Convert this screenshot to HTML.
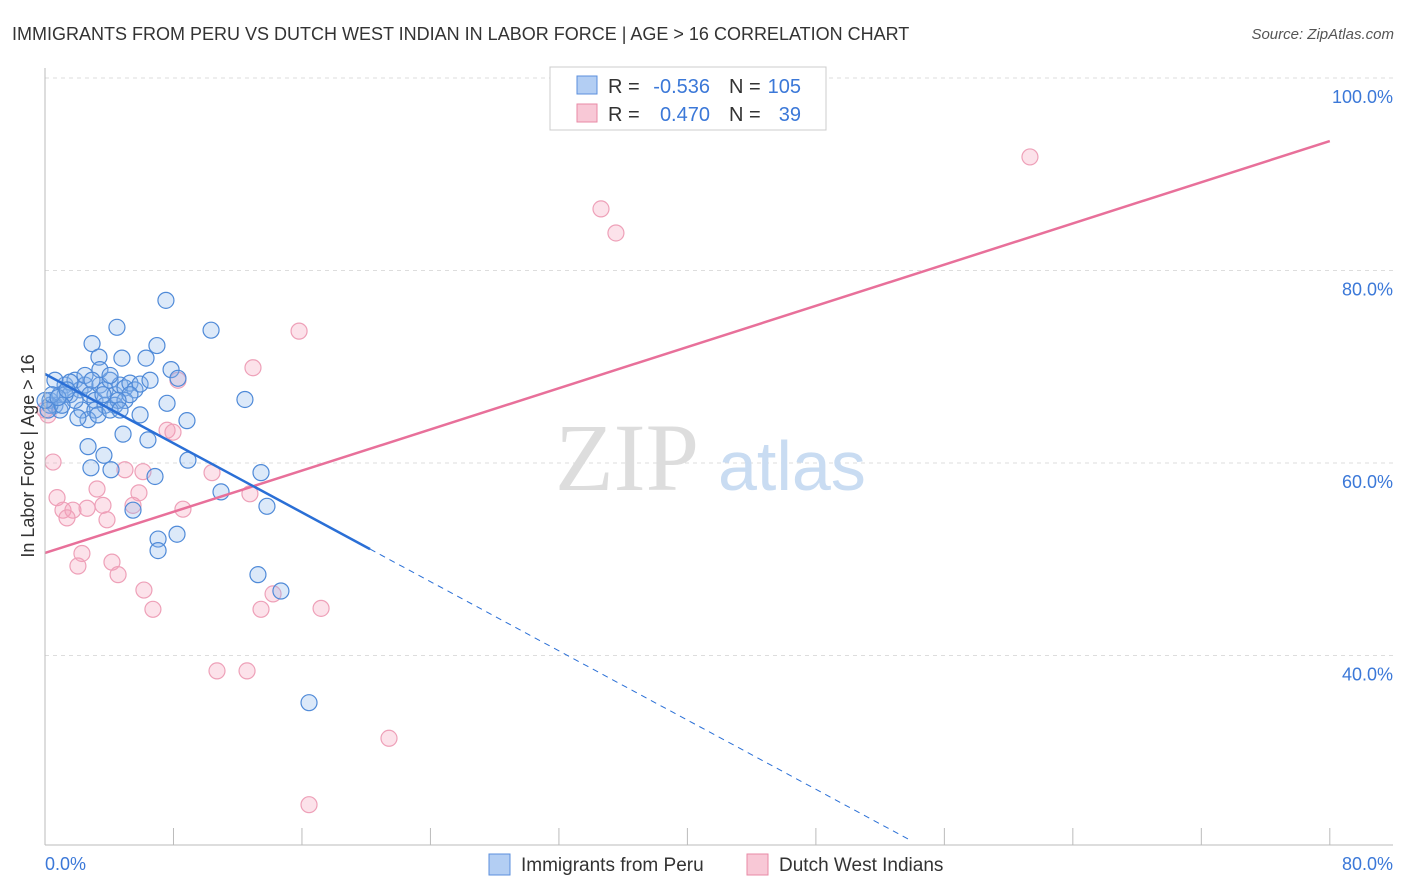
<!DOCTYPE html>
<html><head><meta charset="utf-8"><style>
body{margin:0;background:#fff;font-family:"Liberation Sans",sans-serif;}
svg{display:block}
</style></head><body>
<svg width="1406" height="892" xmlns="http://www.w3.org/2000/svg">
<text x="12" y="40" font-size="18" fill="#333">IMMIGRANTS FROM PERU VS DUTCH WEST INDIAN IN LABOR FORCE | AGE &gt; 16 CORRELATION CHART</text>
<text x="1394" y="39" font-size="15" fill="#555" font-style="italic" text-anchor="end">Source: ZipAtlas.com</text>
<g id="grid"></g>
<text x="555" y="490" font-size="96" fill="#ddd" font-family="Liberation Serif,serif">ZIP</text>
<text x="718" y="490" font-size="70" fill="#c9dcf2">atlas</text>
<g id="pts"></g>
<g id="lines"></g>
<line x1="45" y1="68" x2="45" y2="845" stroke="#bbb"/>
<line x1="45" y1="845" x2="1393" y2="845" stroke="#bbb"/>
<text x="45" y="870" font-size="18" fill="#3b78d8">0.0%</text>
<text x="1393" y="870" font-size="18" fill="#3b78d8" text-anchor="end">80.0%</text>
<text transform="translate(34,456) rotate(-90)" font-size="18" fill="#333" text-anchor="middle">In Labor Force | Age &gt; 16</text>
<g font-size="20">
<rect x="550" y="67" width="276" height="63" fill="#fff" stroke="#ccc"/>
<rect x="577" y="76" width="20" height="18" fill="#b3cef3" stroke="#5b8fdc"/>
<rect x="577" y="104" width="20" height="18" fill="#f8c8d6" stroke="#e88aa6"/>
<text x="608" y="93" fill="#333">R =</text>
<text x="710" y="93" fill="#3b78d8" text-anchor="end">-0.536</text>
<text x="729" y="93" fill="#333">N =</text>
<text x="801" y="93" fill="#3b78d8" text-anchor="end">105</text>
<text x="608" y="121" fill="#333">R =</text>
<text x="710" y="121" fill="#3b78d8" text-anchor="end">0.470</text>
<text x="729" y="121" fill="#333">N =</text>
<text x="801" y="121" fill="#3b78d8" text-anchor="end">39</text>
</g>
<g>
<rect x="489" y="854" width="21" height="21" fill="#b3cef3" stroke="#5b8fdc"/>
<text x="521" y="871" font-size="19" fill="#333">Immigrants from Peru</text>
<rect x="747" y="854" width="21" height="21" fill="#f8c8d6" stroke="#e88aa6"/>
<text x="779" y="871" font-size="19" fill="#333">Dutch West Indians</text>
</g>
</svg>
<script>
const yTicks=[40,60,80,100];
const yTickLabels=["40.0%","60.0%","80.0%","100.0%"];
const xTicks=[0,8,16,24,32,40,48,56,64,72,80];
const peruX=[7.53,4.48,10.34,2.93,6.97,3.36,4.79,6.29,7.85,8.28,12.45,7.6,8.84,5.92,4.86,6.41,2.68,3.67,8.9,2.86,4.11,13.45,10.96,6.85,13.82,5.48,7.04,7.04,8.22,13.26,14.69,16.44,
0.31,0.62,0.93,1.25,1.56,1.87,2.18,2.49,2.8,3.11,3.42,3.74,4.05,4.36,4.67,4.98,5.29,5.6,0.93,0.31,0.19,0.62,1.56,2.3,3.11,3.74,4.36,4.98,2.49,1.87,1.25,1.06,3.42,4.05,5.92,6.54,5.29,4.55,2.68,2.05,3.3,4.05,0,0.44,0.81,1.37,2.93,3.61,4.67];
const peruY=[76.9,74.1,73.8,72.4,72.2,71.0,70.9,70.9,69.7,68.8,66.6,66.2,64.4,65.0,63.0,62.4,61.7,60.8,60.3,59.5,59.3,59.0,57.0,58.6,55.5,55.1,52.1,50.9,52.6,48.4,46.7,35.1,
66.5,66.0,67.1,68.1,67.1,68.6,67.6,68.1,67.1,66.5,68.1,67.6,68.6,67.1,68.1,67.8,68.3,67.6,65.5,66.0,65.5,68.6,68.4,65.5,65.5,66.0,66.0,66.5,69.1,66.5,67.1,66.0,69.7,69.1,68.2,68.6,67.1,66.5,64.5,64.7,65.0,65.5,66.5,67.1,66.8,67.6,68.6,67.1,65.5];
const dutchX=[61.33,34.62,35.55,15.82,12.95,8.28,7.6,7.97,0.5,10.4,4.98,6.1,0.75,3.24,5.85,12.76,1.12,1.74,2.62,3.61,5.48,8.59,1.37,3.86,2.3,2.05,4.17,4.55,6.16,6.72,14.2,13.45,17.19,10.71,12.58,21.42,16.44,0,0.19];
const dutchY=[91.8,86.4,83.9,73.7,69.9,68.6,63.4,63.2,60.1,59.0,59.3,59.1,56.4,57.3,56.9,56.8,55.1,55.1,55.3,55.6,55.6,55.2,54.3,54.1,50.6,49.3,49.7,48.4,46.8,44.8,46.4,44.8,44.9,38.4,38.4,31.4,24.5,65.5,65.0];
const peruTrend=[69.25,-0.899];
const dutchTrend=[50.65,0.535];
const peruSolidEnd=20.24, peruDashEnd=53.86;
const NS="http://www.w3.org/2000/svg";
function xs(v){return 45+v*16.06;}
function ys(v){return 463-(v-60)*9.625;}
function mk(tag,attrs,parent){const e=document.createElementNS(NS,tag);for(const k in attrs)e.setAttribute(k,attrs[k]);parent.appendChild(e);return e;}
const grid=document.getElementById('grid');
yTicks.forEach((t,i)=>{
 const l=mk('line',{x1:45,x2:1393,y1:ys(t),y2:ys(t),stroke:'#ddd','stroke-dasharray':'4,4'},grid);
 
 
 const tx=mk('text',{x:1393,y:ys(t)+25,'font-size':18,fill:'#3b78d8','text-anchor':'end'},grid);
 tx.textContent=yTickLabels[i];
 
 
});
xTicks.forEach(t=>{
 const l=mk('line',{x1:xs(t),x2:xs(t),y1:828,y2:845,stroke:'#bbb'},grid);
 
 
});
const pts=document.getElementById('pts');
dutchX.forEach((x,i)=>{
 const c=mk('circle',{cx:xs(x),cy:ys(dutchY[i]),r:8,fill:'rgba(244,160,186,0.3)',stroke:'#eea0b8','stroke-width':1.2},pts);
 
 
});
peruX.forEach((x,i)=>{
 const c=mk('circle',{cx:xs(x),cy:ys(peruY[i]),r:8,fill:'rgba(140,182,236,0.3)',stroke:'#4f8ad8','stroke-width':1.2},pts);
 
 
});
const lines=document.getElementById('lines');
const dl=mk('line',{x1:xs(0),y1:ys(dutchTrend[0]),x2:xs(80),y2:ys(dutchTrend[0]+80*dutchTrend[1]),stroke:'#e8709a','stroke-width':2.5},lines);


const pl=mk('line',{x1:xs(0),y1:ys(peruTrend[0]),x2:xs(peruSolidEnd),y2:ys(peruTrend[0]+peruSolidEnd*peruTrend[1]),stroke:'#2a6fd6','stroke-width':2.5},lines);


const pd=mk('line',{x1:xs(peruSolidEnd),y1:ys(peruTrend[0]+peruSolidEnd*peruTrend[1]),x2:xs(peruDashEnd),y2:ys(peruTrend[0]+peruDashEnd*peruTrend[1]),stroke:'#2a6fd6','stroke-width':1,'stroke-dasharray':'6,5'},lines);


</script>
</body></html>
